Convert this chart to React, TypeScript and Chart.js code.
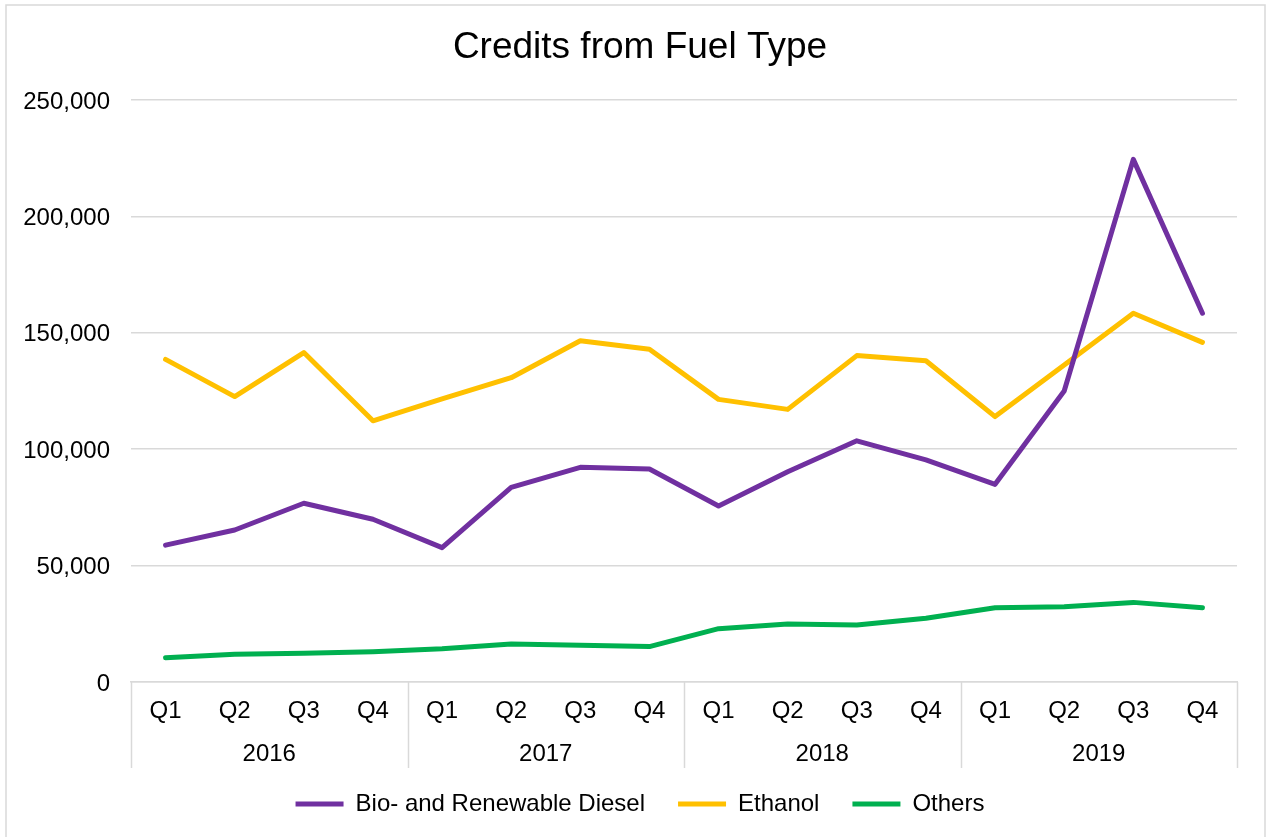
import React, { useEffect, useRef } from "react";
import { Chart, registerables } from "chart.js";

Chart.register(...registerables);

const quarters = ["Q1", "Q2", "Q3", "Q4", "Q1", "Q2", "Q3", "Q4", "Q1", "Q2", "Q3", "Q4", "Q1", "Q2", "Q3", "Q4"];
const years = ["2016", "2017", "2018", "2019"];

const bioDiesel = [58800, 65300, 76800, 69900, 57700, 83600, 92200, 91500, 75600, 90300, 103600, 95400, 84900, 125000, 224500, 158400];
const ethanol = [138600, 122600, 141500, 112200, 121600, 130700, 146600, 142900, 121400, 117100, 140200, 138000, 114000, 136200, 158400, 145900];
const others = [10400, 11900, 12300, 13000, 14300, 16300, 15800, 15200, 22900, 24900, 24500, 27400, 31900, 32300, 34200, 31900];

const seriesNames = ["Bio- and Renewable Diesel", "Ethanol", "Others"];
const yTicks = [0, 50000, 100000, 150000, 200000, 250000];

const FONT = "'Liberation Sans', Arial, sans-serif";
const GRID = "#d9d9d9";
const FS = 24;

const groupPlugin = {
  id: "groupPlugin",
  beforeDraw(chart: any) {
    const { ctx } = chart;
    ctx.save();
    ctx.fillStyle = "#ffffff";
    ctx.fillRect(0, 0, chart.width, chart.height);
    ctx.strokeStyle = GRID;
    ctx.lineWidth = 1.5;
    ctx.strokeRect(6, 5, 1259, 900);
    ctx.restore();
  },
  afterDraw(chart: any) {
    const { ctx, chartArea } = chart;
    const xs = chart.scales.x;
    const n = years.length;
    const w = (xs.right - xs.left) / n;
    ctx.save();
    ctx.strokeStyle = GRID;
    ctx.lineWidth = 1.5;
    for (let g = 0; g <= n; g++) {
      const x = Math.round(xs.left + g * w) + 0.5;
      ctx.beginPath();
      ctx.moveTo(x, chartArea.bottom);
      ctx.lineTo(x, 768);
      ctx.stroke();
    }
    ctx.fillStyle = "#000";
    ctx.font = `${FS}px ${FONT}`;
    ctx.textAlign = "center";
    ctx.textBaseline = "middle";
    years.forEach((yr, g) => {
      ctx.fillText(yr, xs.left + (g + 0.5) * w, 754);
    });
    ctx.restore();
  },
};

export default function App() {
  const ref = useRef<HTMLCanvasElement | null>(null);
  useEffect(() => {
    if (!ref.current) return;
    const chart = new Chart(ref.current, {
      type: "line",
      data: {
        labels: quarters,
        datasets: [
          { label: seriesNames[0], data: bioDiesel, borderColor: "#7030A0", backgroundColor: "#7030A0" },
          { label: seriesNames[1], data: ethanol, borderColor: "#FFC000", backgroundColor: "#FFC000" },
          { label: seriesNames[2], data: others, borderColor: "#00B050", backgroundColor: "#00B050" },
        ].map((d) => ({
          ...d,
          borderWidth: 5,
          pointRadius: 0,
          pointHoverRadius: 0,
          tension: 0,
          borderCapStyle: "round" as const,
          borderJoinStyle: "round" as const,
          fill: false,
        })),
      },
      options: {
        animation: false,
        responsive: false,
        maintainAspectRatio: false,
        layout: { padding: { left: 20, right: 6, top: 0, bottom: 11 } },
        plugins: {
          title: {
            display: true,
            text: "Credits from Fuel Type",
            color: "#000",
            font: { family: FONT, size: 37, weight: "normal" as any },
            padding: { top: 26, bottom: 29.6 },
          },
          legend: {
            display: true,
            position: "bottom",
            labels: {
              usePointStyle: true,
              pointStyle: "line",
              pointStyleWidth: 48,
              color: "#000",
              font: { family: FONT, size: FS },
              padding: 33,
            },
          },
          tooltip: { enabled: false },
        },
        scales: {
          x: {
            type: "category",
            offset: true,
            grid: { display: false, drawTicks: false },
            border: { display: true, color: GRID, width: 1.5 },
            ticks: { color: "#000", font: { family: FONT, size: FS }, padding: 15, maxRotation: 0, autoSkip: false },
            afterFit: (s: any) => { s.height = 77; },
          },
          y: {
            min: 0,
            max: 250000,
            afterBuildTicks: (s: any) => { s.ticks = yTicks.map((v) => ({ value: v })); },
            grid: { color: GRID, lineWidth: 1.5, drawTicks: false },
            border: { display: false },
            ticks: {
              color: "#000",
              font: { family: FONT, size: FS },
              padding: 21,
              labelOffset: 2,
              callback: (v: any) => Number(v).toLocaleString("en-US"),
            },
            afterFit: (s: any) => { s.width = 111; },
          },
          yRight: {
            type: "linear",
            position: "right",
            min: 0,
            max: 1,
            display: true,
            grid: { display: false, drawTicks: false },
            border: { display: false },
            ticks: { display: false },
            afterFit: (s: any) => { s.width = 23; },
          },
        },
      },
      plugins: [groupPlugin],
    });
    return () => chart.destroy();
  }, []);
  return (
    <div style={{ position: "fixed", left: 0, top: 0, width: 1266, height: 837, background: "#fff" }}>
      <canvas ref={ref} width={1266} height={837} style={{ width: 1266, height: 837, display: "block" }} />
    </div>
  );
}
